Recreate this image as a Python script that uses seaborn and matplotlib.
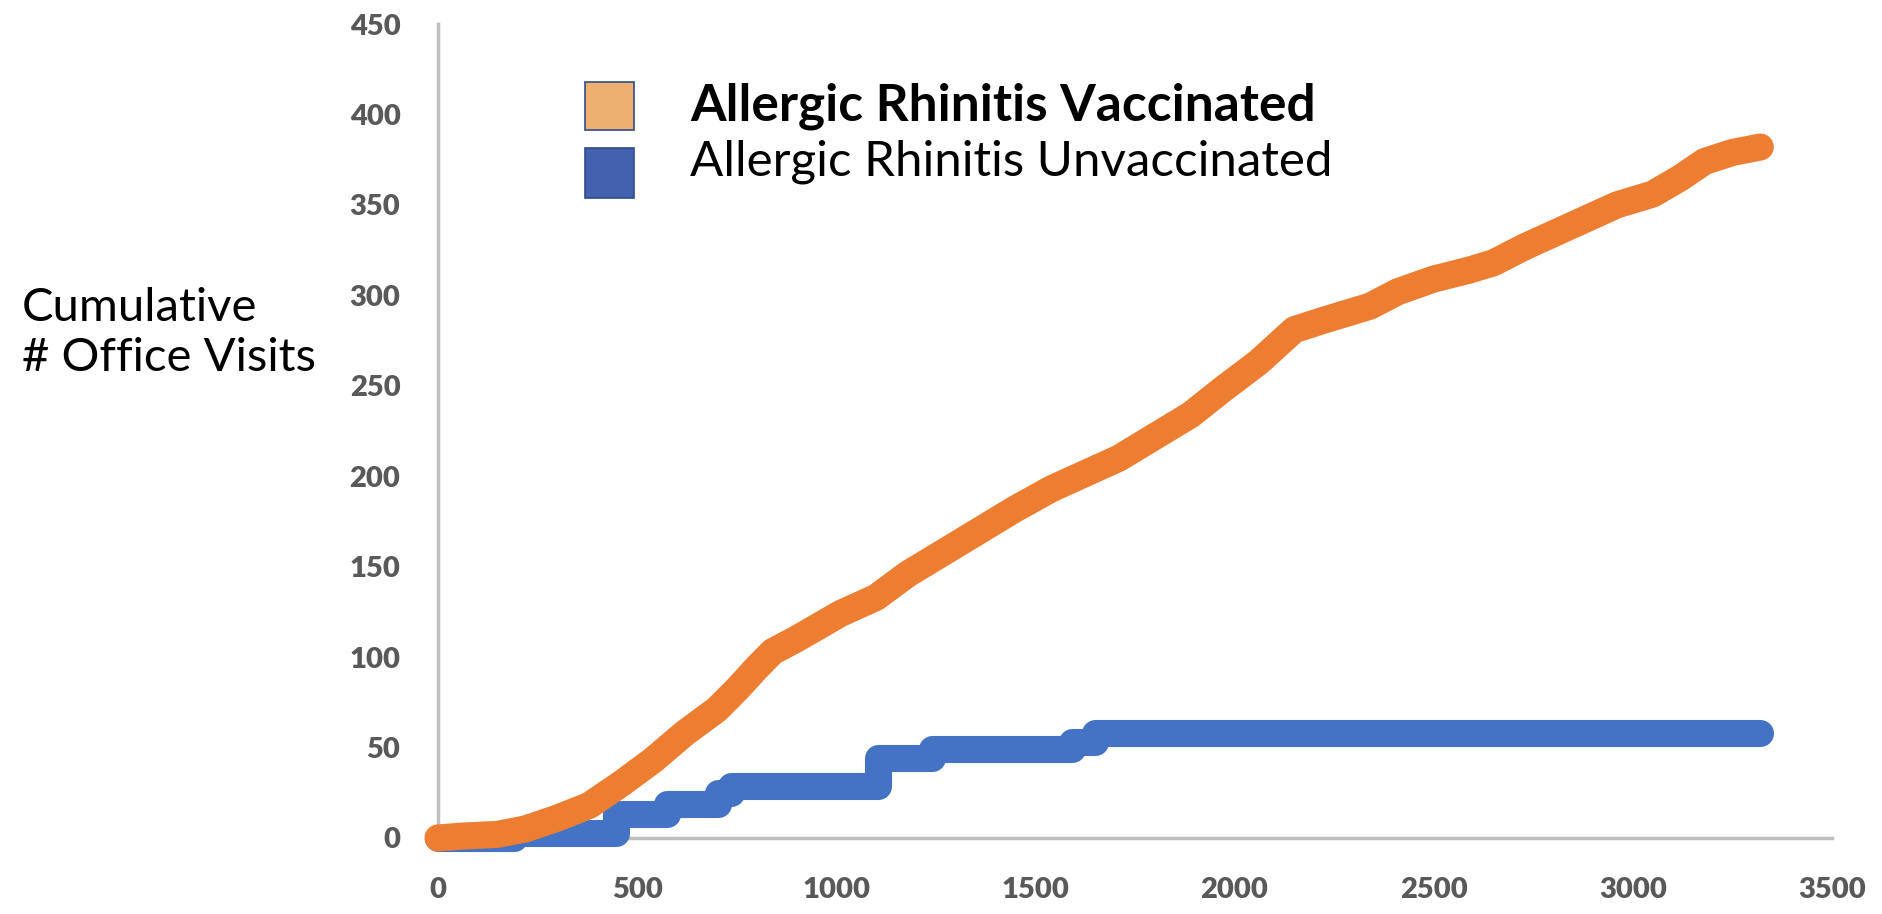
import matplotlib
matplotlib.use("Agg")
import matplotlib.pyplot as plt
from matplotlib.patches import Rectangle
import seaborn as sns
import pandas as pd

# cumulative office visits
vacc_x = [0, 60, 150, 220, 300, 380, 460, 540, 620, 700, 750, 800, 840, 900, 1010,
          1100, 1180, 1270, 1360, 1450, 1540, 1620, 1710, 1800, 1890, 1970, 2060,
          2150, 2220, 2280, 2340, 2410, 2500, 2590, 2650, 2730, 2800, 2880, 2960,
          3050, 3120, 3180, 3250, 3320]
vacc_y = [0, 1, 2, 5, 11, 18, 30, 43, 58, 71, 82, 94, 103, 110, 124,
          133, 146, 158, 170, 182, 193, 201, 210, 222, 234, 248, 263,
          281, 286, 290, 294, 302, 309, 314, 318, 327, 334, 342, 350,
          356, 365, 374, 379, 382]

unvacc_x = [0, 190, 448, 576, 704, 736, 1104, 1240, 1592, 1650, 3320]
unvacc_y = [0, 3, 13, 19, 25, 29, 44, 49, 53, 58, 58]

x_ticks = [0, 500, 1000, 1500, 2000, 2500, 3000, 3500]
y_ticks = [0, 50, 100, 150, 200, 250, 300, 350, 400, 450]

orange = '#ED7D31'
blue = '#4472C4'

sns.set_style("white")
plt.rcParams['font.family'] = ['Lato', 'DejaVu Sans']

fig = plt.figure(figsize=(18.83, 9.14), dpi=100)
ax = fig.add_axes([0.2326, 0.0832, 0.9729 - 0.2326, 0.9737 - 0.0832])

df_u = pd.DataFrame({'x': unvacc_x, 'y': unvacc_y})
df_v = pd.DataFrame({'x': vacc_x, 'y': vacc_y})

sns.lineplot(data=df_u, x='x', y='y', ax=ax, color=blue, linewidth=19.5,
             drawstyle='steps-post', solid_capstyle='round', solid_joinstyle='round')
sns.lineplot(data=df_v, x='x', y='y', ax=ax, color=orange, linewidth=19.5,
             solid_capstyle='round', solid_joinstyle='round')

ax.set_xlim(0, 3500)
ax.set_ylim(0, 450)
ax.set_xticks(x_ticks)
ax.set_yticks(y_ticks)
ax.set_xlabel('')
ax.set_ylabel('')
for s in ['top', 'right']:
    ax.spines[s].set_visible(False)
for s in ['left', 'bottom']:
    ax.spines[s].set_color('#BFBFBF')
    ax.spines[s].set_linewidth(2.5)
ax.tick_params(axis='both', length=0, labelsize=21, labelcolor='#595959')
ax.tick_params(axis='y', pad=27)
ax.tick_params(axis='x', pad=28)
for lab in ax.get_xticklabels() + ax.get_yticklabels():
    lab.set_fontweight('heavy')
for line in ax.lines:
    line.set_clip_on(False)
    line.set_zorder(3)

# y label as free text at the left
fig.text(22 / 1883, 1 - 333 / 914, 'Cumulative\n# Office Visits', ha='left', va='center',
         fontsize=34, color='black', linespacing=1.25)

# legend drawn by hand
W, H = 1883, 914
fig.add_artist(Rectangle((585 / W, 1 - 130 / H), 49 / W, 48 / H, transform=fig.transFigure,
                         facecolor='#EEB06F', edgecolor='#2F4C8C', linewidth=1.2))
fig.add_artist(Rectangle((585 / W, 1 - 198 / H), 49 / W, 50 / H, transform=fig.transFigure,
                         facecolor='#4361AF', edgecolor='#2F4C8C', linewidth=1.2))
fig.text(690 / W, 1 - 106 / H, 'Allergic Rhinitis Vaccinated', ha='left', va='center',
         fontsize=37, fontweight='bold', color='black')
fig.text(690 / W, 1 - 162 / H, 'Allergic Rhinitis Unvaccinated', ha='left', va='center',
         fontsize=35.5, color='black')

fig.savefig('out.png', dpi=100)
